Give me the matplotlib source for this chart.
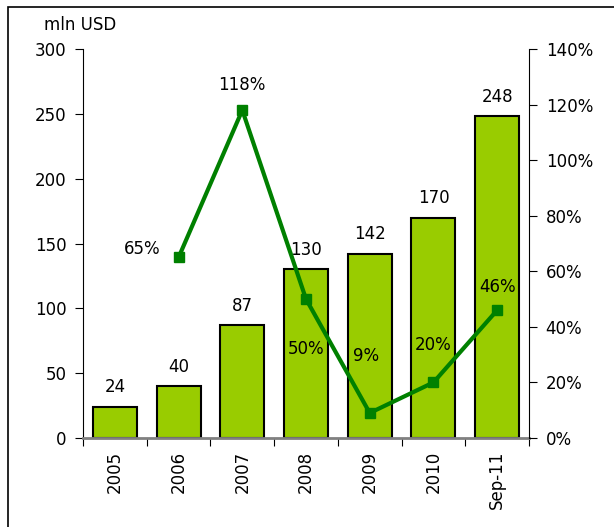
import matplotlib
matplotlib.use("Agg")
import matplotlib.pyplot as plt
from matplotlib.ticker import FuncFormatter
from matplotlib.patches import Rectangle

years = ["2005", "2006", "2007", "2008", "2009", "2010", "Sep-11"]
volume = [24, 40, 87, 130, 142, 170, 248]
growth = [None, 65, 118, 50, 9, 20, 46]
# label offsets (points) for the growth labels
growth_offsets = [None, (-26, 6), (0, 18), (0, -36), (-3, 41), (0, 27), (0, 17)]

plt.rcParams['font.family'] = ['DejaVu Sans']
plt.rcParams['font.size'] = 12

fig = plt.figure(figsize=(6.14, 5.27), dpi=100)
ax = fig.add_axes([0.1352, 0.1689, 0.7264, 0.7381])

x = list(range(len(years)))
ax.bar(x, volume, width=0.69, color='#99cc00', edgecolor='black', linewidth=1.5, zorder=2)
for xi, v in zip(x, volume):
    ax.annotate(str(v), (xi, v), xytext=(0, 14), textcoords='offset points',
                ha='center', va='center')

ax.set_xlim(-0.5, len(years) - 0.5)
ax.set_ylim(0, 300)
ax.set_yticks(range(0, 301, 50))
ax.set_xticks([i + 0.5 for i in range(-1, len(years))], minor=False)
ax.set_xticklabels([])
ax.set_xticks(x, minor=True)
ax.set_xticklabels(years, minor=True, rotation=90)
ax.tick_params(axis='x', which='major', length=6, color='black', direction='out')
ax.tick_params(axis='x', which='minor', length=0, pad=9)
ax.tick_params(axis='y', length=6, direction='out', pad=6)
ax.spines['top'].set_visible(False)
ax.spines['right'].set_visible(False)
ax.spines['bottom'].set_color('#808080')
ax.spines['bottom'].set_linewidth(2)

ax2 = ax.twinx()
gx = [xi for xi, g in zip(x, growth) if g is not None]
gy = [g for g in growth if g is not None]
ax2.plot(gx, gy, color='#008000', linewidth=3, marker='s', markersize=7.5, zorder=3)
for xi, g, off in zip(x, growth, growth_offsets):
    if g is None:
        continue
    ax2.annotate(f"{g}%", (xi, g), xytext=off, textcoords='offset points',
                 ha='center', va='center')
ax2.set_ylim(0, 140)
ax2.set_yticks(range(0, 141, 20))
ax2.yaxis.set_major_formatter(FuncFormatter(lambda v, p: f"{int(v)}%"))
ax2.tick_params(axis='y', length=6, direction='out', pad=6)
ax2.spines['top'].set_visible(False)
ax2.spines['left'].set_visible(False)
ax2.spines['bottom'].set_visible(False)

fig.text(0.072, 0.953, "mln USD", va='center', ha='left')

# outer frame
fig.patches.append(Rectangle((8 / 614, -0.1), 1.2, 1 - 7 / 527 + 0.1, transform=fig.transFigure,
                             fill=False, edgecolor='black', linewidth=1.2))

fig.savefig("out.png", dpi=100)
